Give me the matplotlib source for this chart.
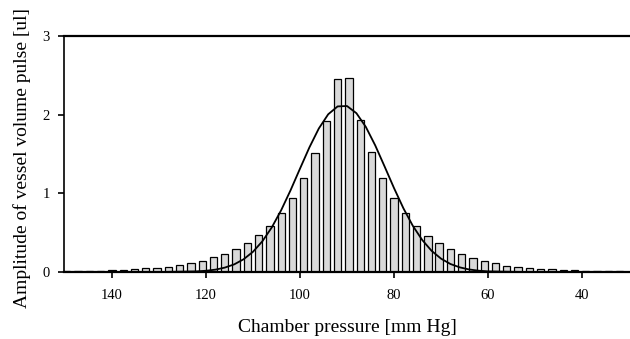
import matplotlib.pyplot as plt
import numpy as np

# chamber pressure of each bar [mm Hg]
pressure = [149.6, 147.2, 144.8, 142.4, 140.0, 137.6, 135.2, 132.8, 130.4, 128.0,
            125.6, 123.2, 120.8, 118.4, 116.0, 113.6, 111.2, 108.8, 106.4, 104.0,
            101.6, 99.2, 96.8, 94.4, 92.0, 89.6, 87.2, 84.8, 82.4, 80.0,
            77.6, 75.2, 72.8, 70.4, 68.0, 65.6, 63.2, 60.8, 58.4, 56.0,
            53.6, 51.2, 48.8, 46.4, 44.0, 41.6, 39.2, 36.8, 34.4, 32.0]
# amplitude of vessel volume pulse [ul]
amplitude = [0.01, 0.01, 0.012, 0.015, 0.02, 0.025, 0.035, 0.045, 0.057, 0.07,
             0.085, 0.11, 0.14, 0.19, 0.225, 0.29, 0.37, 0.47, 0.59, 0.75,
             0.94, 1.19, 1.51, 1.92, 2.45, 2.47, 1.93, 1.52, 1.19, 0.94,
             0.745, 0.59, 0.46, 0.37, 0.29, 0.225, 0.18, 0.14, 0.11, 0.08,
             0.066, 0.055, 0.042, 0.034, 0.025, 0.02, 0.015, 0.012, 0.01, 0.01]

# fitted curve
fit_p = [130, 122, 120, 118, 116, 114, 112, 110, 108, 106, 104, 102, 100, 98, 96, 94, 92,
         90, 88, 86, 84, 82, 80, 78, 76, 74, 72, 70, 68, 66, 64, 62, 60, 52]
fit_a = [0.0, 0.008, 0.016, 0.03, 0.056, 0.097, 0.162, 0.257, 0.391, 0.567, 0.786, 1.04,
         1.314, 1.584, 1.824, 2.005, 2.105, 2.11, 2.019, 1.845, 1.61, 1.341, 1.067, 0.81,
         0.587, 0.407, 0.269, 0.17, 0.102, 0.059, 0.032, 0.017, 0.008, 0.0]

plt.rcParams['font.family'] = ['Liberation Serif', 'DejaVu Serif']

fig = plt.figure(figsize=(6.3, 3.39), dpi=100)
ax = fig.add_axes([0.1016, 0.1976, 0.8984, 0.6962])

ax.bar(pressure, amplitude, width=1.55, color='#d9d9d9', edgecolor='black', linewidth=0.9, zorder=2)
ax.plot(fit_p, fit_a, color='black', linewidth=1.3, zorder=3)

ax.set_xlim(150.2, 29.8)
ax.set_ylim(0, 3)
ax.set_xticks([140, 120, 100, 80, 60, 40])
ax.set_yticks([0, 1, 2, 3])

ax.spines['right'].set_visible(False)
ax.spines['top'].set_linewidth(1.6)
ax.spines['bottom'].set_linewidth(1.6)
ax.spines['left'].set_linewidth(1.2)
ax.tick_params(axis='both', direction='out', length=4, width=1.2, labelsize=10.5)
ax.tick_params(axis='x', pad=8)
ax.tick_params(axis='y', pad=6)

ax.set_xlabel('Chamber pressure [mm Hg]', fontsize=14)
ax.set_ylabel('Amplitude of vessel volume pulse [ul]', fontsize=14)
ax.xaxis.set_label_coords(0.5, -0.197)
ax.yaxis.set_label_coords(-0.058, 0.481)

fig.savefig('out.png', dpi=100)
